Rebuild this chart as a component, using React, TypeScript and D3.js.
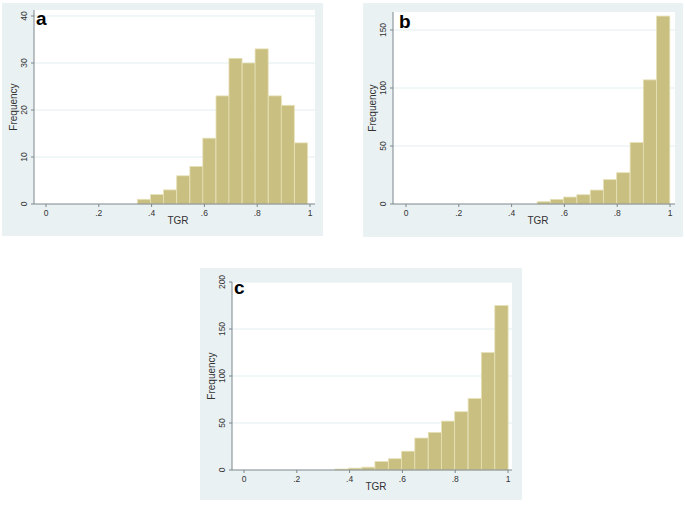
import React from 'react';
import * as d3 from 'd3';

// bin starts (TGR) and frequencies
const binStartsA = [0.346, 0.396, 0.445, 0.495, 0.545, 0.594, 0.644, 0.693, 0.743, 0.792, 0.842, 0.891, 0.941];
const freqA = [1, 2, 3, 6, 8, 14, 23, 31, 30, 33, 23, 21, 13];
const binWidthA = 0.0495;

const binStartsB = [0.497, 0.547, 0.597, 0.647, 0.698, 0.748, 0.798, 0.849, 0.899, 0.949];
const freqB = [2, 4, 6, 8, 12, 21, 27, 53, 107, 162];
const binWidthB = 0.0503;

const binStartsC = [0.345, 0.395, 0.446, 0.496, 0.547, 0.597, 0.647, 0.698, 0.748, 0.798, 0.849, 0.899, 0.950];
const freqC = [1, 2, 3, 9, 12, 20, 34, 40, 52, 62, 76, 125, 175];
const binWidthC = 0.0504;

const xTicks = [0, 0.2, 0.4, 0.6, 0.8, 1];
const xTickLabels = ['0', '.2', '.4', '.6', '.8', '1'];
const yTicksA = [0, 10, 20, 30, 40];
const yTicksB = [0, 50, 100, 150];
const yTicksC = [0, 50, 100, 150, 200];

const BG = '#eaf1f3';
const BAR = '#c9bf80';
const BAR_EDGE = '#e7e1b8';
const GRID = '#e3edf0';
const AXIS = '#7d878c';
const TEXT = '#333';
const FONT = '"Liberation Sans", Arial, sans-serif';

interface PanelProps {
  label: string;
  bg: [number, number, number, number];
  plot: [number, number, number, number];
  xRange: [number, number];
  yMax: number;
  yTop: number;
  yTicks: number[];
  starts: number[];
  freq: number[];
  binWidth: number;
  labelPos: [number, number];
}

const Panel: React.FC<PanelProps> = ({ label, bg, plot, xRange, yMax, yTop, yTicks, starts, freq, binWidth, labelPos }) => {
  const [px0, py0, px1, py1] = plot;
  const x = d3.scaleLinear().domain([0, 1]).range(xRange);
  const y = d3.scaleLinear().domain([0, yMax]).range([py1, yTop]);
  const xMid = (xRange[0] + xRange[1]) / 2;
  const yMid = (py0 + py1) / 2;
  return (
    <g>
      <rect x={bg[0]} y={bg[1]} width={bg[2] - bg[0]} height={bg[3] - bg[1]} fill={BG} />
      <rect x={px0} y={py0} width={px1 - px0} height={py1 - py0} fill="#fff" />
      {yTicks.filter(t => t > 0).map(t => (
        <line key={t} x1={px0} x2={px1} y1={y(t)} y2={y(t)} stroke={GRID} strokeWidth={1} />
      ))}
      {starts.map((s, i) => (
        <rect key={i} x={x(s)} y={y(freq[i])} width={x(s + binWidth) - x(s)} height={py1 - y(freq[i])}
          fill={BAR} stroke={BAR_EDGE} strokeWidth={0.8} />
      ))}
      <line x1={px0} x2={px0} y1={py0} y2={py1} stroke={AXIS} strokeWidth={1} />
      <line x1={px0} x2={px1} y1={py1} y2={py1} stroke={AXIS} strokeWidth={1} />
      {yTicks.map(t => (
        <g key={t}>
          <line x1={px0 - 3} x2={px0} y1={y(t)} y2={y(t)} stroke={AXIS} />
          <text transform={`translate(${px0 - 7},${y(t)}) rotate(-90)`} textAnchor="middle"
            fontSize={8.5} fill={TEXT} fontFamily={FONT}>{t}</text>
        </g>
      ))}
      {xTicks.map((t, i) => (
        <g key={t}>
          <line x1={x(t)} x2={x(t)} y1={py1} y2={py1 + 3} stroke={AXIS} />
          <text x={x(t)} y={py1 + 12} textAnchor="middle" fontSize={8.5} fill={TEXT} fontFamily={FONT}>
            {xTickLabels[i]}
          </text>
        </g>
      ))}
      <text x={xMid} y={py1 + 20} textAnchor="middle" fontSize={10} fill={TEXT} fontFamily={FONT}>TGR</text>
      <text transform={`translate(${px0 - 17},${yMid}) rotate(-90)`} textAnchor="middle" fontSize={10}
        fill={TEXT} fontFamily={FONT}>Frequency</text>
      <text x={labelPos[0]} y={labelPos[1]} fontSize={19} fontWeight="bold" fill="#000" fontFamily={FONT}>{label}</text>
    </g>
  );
};

export default function App() {
  return (
    <svg width={685} height={505} style={{ position: 'absolute', left: 0, top: 0, background: '#fff' }}>
      <Panel label="a" bg={[2, 3, 323, 236]} plot={[34, 10, 315, 204]} xRange={[46, 310]} yMax={40} yTop={16}
        yTicks={yTicksA} starts={binStartsA} freq={freqA} binWidth={binWidthA} labelPos={[36, 25]} />
      <Panel label="b" bg={[363, 3, 683, 237]} plot={[393, 12, 675, 204]} xRange={[406, 670]} yMax={150} yTop={30}
        yTicks={yTicksB} starts={binStartsB} freq={freqB} binWidth={binWidthB} labelPos={[399, 28]} />
      <Panel label="c" bg={[200, 268, 522, 500]} plot={[232, 282, 512, 470]} xRange={[244, 508]} yMax={200} yTop={282}
        yTicks={yTicksC} starts={binStartsC} freq={freqC} binWidth={binWidthC} labelPos={[234, 294]} />
    </svg>
  );
}
